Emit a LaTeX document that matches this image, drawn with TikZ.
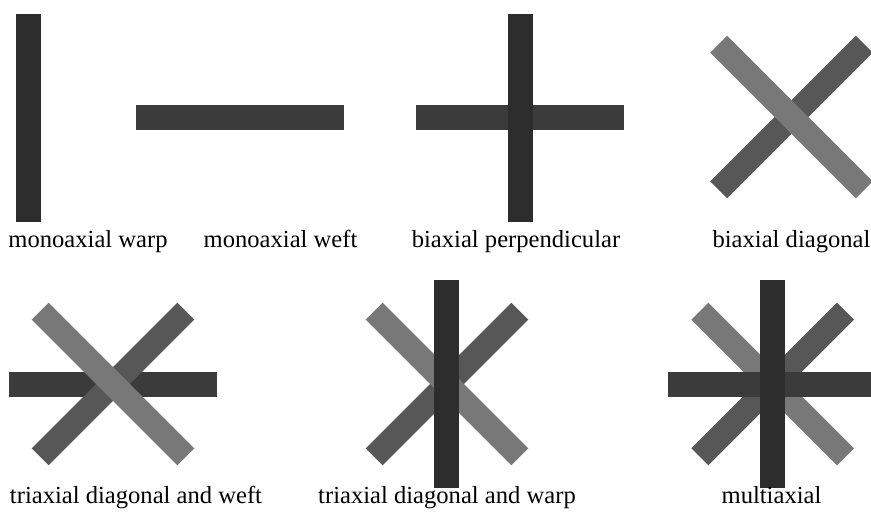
\documentclass[tikz,border=0pt]{standalone}
\usepackage{fontspec}
\setmainfont{Liberation Serif}
\definecolor{warpc}{HTML}{2D2D2D}
\definecolor{weftc}{HTML}{3B3B3B}
\definecolor{diagdark}{HTML}{575757}
\definecolor{diaglight}{HTML}{787878}
\tikzset{
  bar/.style={inner sep=0pt, outer sep=0pt, minimum width=208pt, minimum height=25pt, draw=none},
  warpbar/.style={bar, rotate=90, fill=warpc},
  weftbar/.style={bar, fill=weftc},
  darkdiag/.style={bar, minimum height=24pt, minimum width=206pt, rotate=45, fill=diagdark},
  lightdiag/.style={bar, minimum height=24pt, minimum width=206pt, rotate=-45, fill=diaglight},
  lbl/.style={anchor=base, inner sep=0pt, font=\fontsize{24.6}{28}\selectfont}
}
\begin{document}
\begin{tikzpicture}[x=1pt, y=-1pt]
\useasboundingbox[fill=white] (0,0) rectangle (871,515);
% monoaxial warp
\node[warpbar] (w1) at (28,117.5) {};
% monoaxial weft
\node[weftbar] (f1) at (239.5,117.2) {};
% biaxial perpendicular
\node[weftbar] (f2) at (520,117.5) {};
\node[warpbar] (w2) at (520,117.5) {};
% biaxial diagonal
\node[darkdiag] (d1) at (791.5,117) {};
\node[lightdiag] (l1) at (791.5,117) {};
% triaxial diagonal and weft
\node[weftbar] (f3) at (112.8,384.2) {};
\node[darkdiag] (d2) at (113,384) {};
\node[lightdiag] (l2) at (113,384) {};
% triaxial diagonal and warp
\node[darkdiag] (d3) at (447,384) {};
\node[lightdiag] (l3) at (447,384) {};
\node[warpbar] (w3) at (446.5,384.2) {};
% multiaxial
\node[darkdiag] (d4) at (772.7,384) {};
\node[lightdiag] (l4) at (772.7,384) {};
\node[weftbar] (f4) at (771.5,384.5) {};
\node[warpbar] (w4) at (772.5,384.2) {};
% labels
\node[lbl] (t1) at (88,247) {monoaxial warp};
\node[lbl] (t2) at (280.5,247) {monoaxial weft};
\node[lbl] (t3) at (516,247) {biaxial perpendicular};
\node[lbl] (t4) at (791.5,247) {biaxial diagonal};
\node[lbl] (t5) at (136,503) {triaxial diagonal and weft};
\node[lbl] (t6) at (447,503) {triaxial diagonal and warp};
\node[lbl] (t7) at (771.5,503) {multiaxial};
\end{tikzpicture}
\end{document}
